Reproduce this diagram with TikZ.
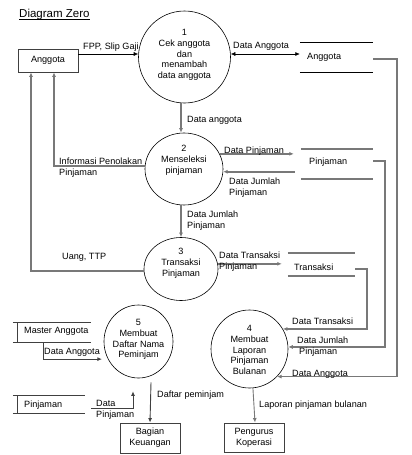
\documentclass[tikz,border=0pt]{standalone}
\usepackage{fontspec}
\setmainfont{Liberation Sans}
\usetikzlibrary{arrows.meta,shapes.geometric}
\definecolor{ln}{HTML}{787878}
\definecolor{dk}{HTML}{404040}
\newcommand{\fs}{\fontsize{9.1}{10.8}\selectfont}
\begin{document}
\begin{tikzpicture}[x=1pt,y=-1pt,
  txt/.style={inner sep=0pt,font=\fs},
  ent/.style={draw=dk,line width=0.9pt,inner sep=0pt,font=\fs,align=center},
  proc/.style={ellipse,draw=black,line width=0.6pt,inner sep=0pt},
  bare/.style={inner sep=0pt,draw=none},
  blk/.style={draw=black,line width=0.6pt},
  dkl/.style={draw=dk,line width=0.9pt},
  gry/.style={draw=ln,line width=1.7pt},
  tip/.style={-{Latex[length=4.5pt,width=4pt]}},
  btip/.style={{Latex[length=4.5pt,width=4pt]}-{Latex[length=4.5pt,width=4pt]}},
]
\useasboundingbox (0,0) rectangle (412,455);
\fill[white] (0,0) rectangle (412,455);

% title
\node[txt,anchor=base west,font=\fontsize{11.5}{13}\selectfont] (title) at (19,17.5) {Diagram Zero};
\draw[black,line width=0.7pt] ([yshift=-1.4pt]title.base west) -- ([yshift=-1.4pt]title.base east);

% external entities
\node[ent,minimum width=60pt,minimum height=23pt] (ang) at (48,60.5) {Anggota};
\node[ent,minimum width=60pt,minimum height=30pt] (bk) at (150,438) {Bagian\\Keuangan};
\node[ent,minimum width=60pt,minimum height=29pt] (pk) at (254,437.5) {Pengurus\\Koperasi};

% processes
\node[proc,minimum width=92pt,minimum height=92pt] (p1) at (184.5,57) {};
\node[txt,align=center] (p1t) at (184.5,55) {1\\Cek anggota\\dan\\menambah\\data anggota};
\node[proc,minimum width=78pt,minimum height=72pt] (p2) at (184,169) {};
\node[txt,align=center] (p2t) at (184,160.5) {2\\Menseleksi\\pinjaman};
\node[proc,minimum width=74pt,minimum height=63pt] (p3) at (181,269) {};
\node[txt,align=center] (p3t) at (181,263) {3\\Transaksi\\Pinjaman};
\node[proc,minimum width=77pt,minimum height=78pt] (p4) at (249.5,349) {};
\node[txt,align=center] (p4t) at (249.5,350) {4\\Membuat\\Laporan\\Pinjaman\\Bulanan};
\node[proc,minimum width=69pt,minimum height=73pt] (p5) at (138.5,341.5) {};
\node[txt,align=center] (p5t) at (138.5,339.5) {5\\Membuat\\Daftar Nama\\Peminjam};

% data stores
\node[bare,minimum width=73pt,minimum height=30pt] (s1) at (336.5,57) {};
\draw[blk] (s1.north west) -- (s1.north east) (s1.south west) -- (s1.south east);
\node[txt,anchor=west] (s1t) at (307,57) {Anggota};

\node[bare,minimum width=72pt,minimum height=30pt] (s2) at (337,164) {};
\draw[gry] (s2.north west) -- (s2.north east) (s2.south west) -- (s2.south east);
\node[txt,anchor=west] (s2t) at (309,162) {Pinjaman};

\node[bare,minimum width=67pt,minimum height=23pt] (s3) at (321.5,264.5) {};
\draw[gry] (s3.north west) -- (s3.north east) (s3.south west) -- (s3.south east);
\node[txt,anchor=west] (s3t) at (294,267) {Transaksi};

\node[bare,minimum width=78pt,minimum height=19pt] (s4) at (52,332.5) {};
\draw[dkl] (s4.north west) -- (s4.north east) (s4.south west) -- (s4.south east)
  ([xshift=5pt]s4.north west) -- ([xshift=5pt]s4.south west);
\node[txt,anchor=west] (s4t) at (24,331) {Master Anggota};

\node[bare,minimum width=72pt,minimum height=17pt] (s5) at (49,404.5) {};
\draw[dkl] (s5.north west) -- (s5.north east) (s5.south west) -- (s5.south east)
  ([xshift=5pt]s5.north west) -- ([xshift=5pt]s5.south west);
\node[txt,anchor=west] (s5t) at (24,405) {Pinjaman};

% helper coordinates
\coordinate (s2in) at ([xshift=-7pt]s2.west);
\coordinate (s2out) at ([xshift=-6pt]s2.west);
\coordinate (s3in) at ([xshift=-6pt]s3.west);

% flows
\draw[blk,tip] ([yshift=6.5pt]ang.east) -- ([yshift=3pt]p1.west);
\node[txt,anchor=west] (l1) at (83,47) {FPP, Slip Gaji};

\draw[blk,btip] ([yshift=3pt]p1.east) -- ([yshift=3pt]s1.west);
\node[txt,anchor=west] (l2) at (233,46) {Data Anggota};

\draw[gry,line width=1.2pt,tip] ([xshift=-3.5pt]p1.south) -- ([xshift=-3pt]p2.north);
\node[txt,anchor=west] (l3) at (187,120) {Data anggota};

\draw[gry,line width=1.2pt,tip] ([xshift=-3pt]p2.south) -- (p3.north);
\node[txt,anchor=west,align=left] (l4) at (187,220.5) {Data Jumlah\\Pinjaman};

\draw[gry,tip] (p2.23) -- (p2.23 -| s2in);
\node[txt,anchor=west] (l5) at (224,151) {Data Pinjaman};

\draw[gry,tip] (s2out |- p2.-4) -- (p2.-4);
\node[txt,anchor=west,align=left] (l6) at (229,188) {Data Jumlah\\Pinjaman};

\draw[gry,tip] (p2.176) -| ([xshift=6pt]ang.south);
\node[txt,anchor=west,align=left] (l7) at (59,167.5) {Informasi Penolakan\\Pinjaman};

\draw[gry,tip] (p3.183) -| ([xshift=-17pt]ang.south);
\node[txt,anchor=west] (l8) at (62,257) {Uang, TTP};

\draw[gry,tip] (p3.8) -- (p3.8 -| s3in);
\node[txt,anchor=west,align=left] (l9) at (219,262) {Data Transaksi\\Pinjaman};

\draw[gry,tip] ([yshift=-4.5pt]s3.east) -- ++(12,0) |- (p4.31);
\node[txt,anchor=west] (l10) at (292,321) {Data Transaksi};

\draw[gry,tip] ([yshift=3pt]s2.east) -- ++(12,0) |- (p4.3);
\node[txt,anchor=west,align=left] (l11) at (297,347) {Data Jumlah\\\hspace*{2pt}Pinjaman};

\draw[gry,tip] ([yshift=-2pt]s1.east) -- ++(24,0) |- (p4.-45);
\node[txt,anchor=west] (l12) at (292,374) {Data Anggota};

\draw[ln,line width=0.9pt,tip] (p4.-85) -- ([xshift=1pt]pk.north);
\node[txt,anchor=west] (l13) at (259,405) {Laporan pinjaman bulanan};

\draw[dkl,tip] ([xshift=-9pt]s4.south) |- ([xshift=-6pt]p5.210);
\node[txt,anchor=west] (l14) at (44,352) {Data Anggota};

\draw[dkl,tip] ([xshift=6pt,yshift=-3.5pt]s5.east) -| ([xshift=-5.5pt,yshift=-13pt]p5.south);
\node[txt,anchor=west,align=left] (l15) at (96,410) {Data\\Pinjaman};

\draw[dkl,tip] ([xshift=12.5pt,yshift=-4pt]p5.south) -- (bk.north);
\node[txt,anchor=west] (l16) at (157,395) {Daftar peminjam};
\end{tikzpicture}
\end{document}
